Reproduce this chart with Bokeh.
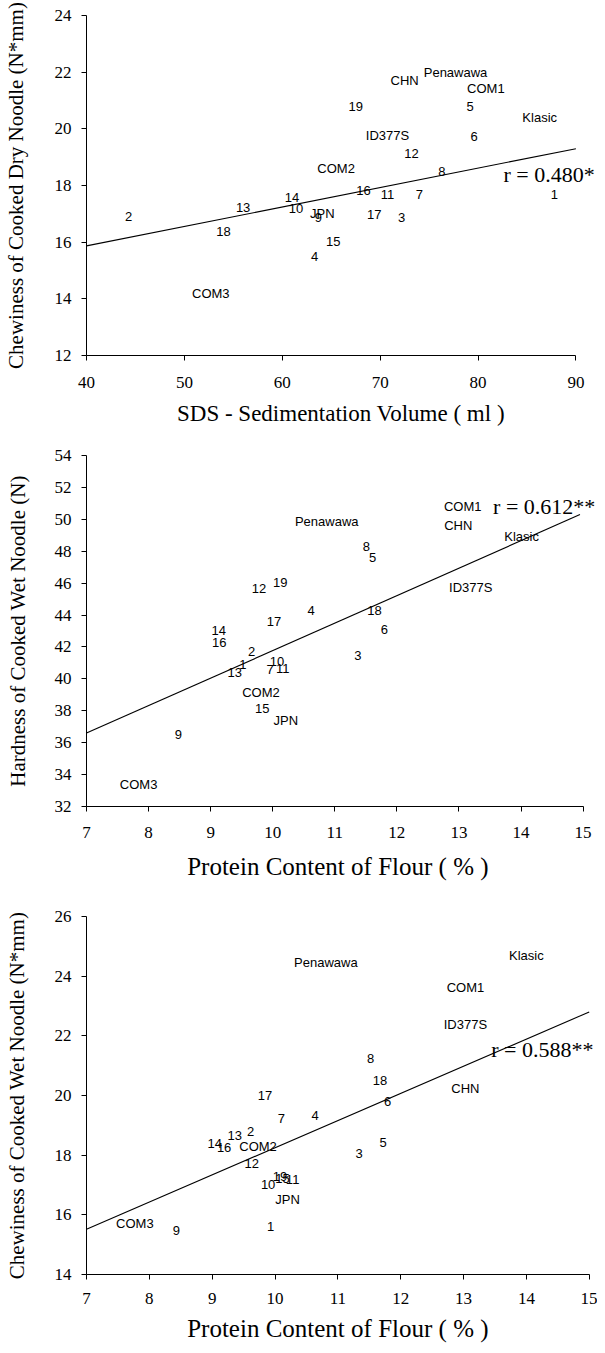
from bokeh.plotting import figure
from bokeh.layouts import column
from bokeh.models import ColumnDataSource, FixedTicker, Label
from bokeh.embed import file_html
from bokeh.resources import INLINE
from bokeh.core.properties import value

genotypes = ["1", "2", "3", "4", "5", "6", "7", "8", "9", "10", "11", "12", "13",
             "14", "15", "16", "17", "18", "19", "COM1", "COM2", "COM3", "CHN",
             "JPN", "Klasic", "Penawawa", "ID377S"]

# Panel 1: SDS-sedimentation volume vs chewiness of cooked dry noodle
sds_volume = [87.8, 44.3, 72.2, 63.3, 79.2, 79.6, 74.0, 76.3, 63.7, 61.4, 70.75, 73.2, 56.0,
              61.0, 65.2, 68.3, 69.4, 54.0, 67.5, 80.8, 65.5, 52.7, 72.5,
              64.1, 86.3, 77.7, 70.75]
chew_dry = [17.67, 16.92, 16.86, 15.51, 20.80, 19.72, 17.67, 18.48, 16.86, 17.19, 17.67, 19.13, 17.22,
            17.57, 16.04, 17.81, 16.96, 16.36, 20.80, 21.41, 18.59, 14.19, 21.69,
            17.02, 20.39, 21.98, 19.77]

# Panel 2: protein content vs hardness of cooked wet noodle
protein_hard = [9.52, 9.66, 11.37, 10.62, 11.61, 11.80, 9.96, 11.51, 8.48, 10.07, 10.16, 9.78, 9.39,
                9.13, 9.83, 9.14, 10.02, 11.64, 10.12, 13.06, 9.81, 7.84, 12.99,
                10.21, 14.01, 10.87, 13.19]
hardness_wet = [40.93, 41.73, 41.45, 44.28, 47.63, 43.08, 40.57, 48.27, 36.50, 41.10, 40.62, 45.64, 40.41,
                43.02, 38.17, 42.25, 43.57, 44.28, 46.01, 50.78, 39.16, 33.36, 49.61,
                37.40, 48.90, 49.88, 45.70]

# Panel 3: protein content vs chewiness of cooked wet noodle
protein_chew = [9.93, 9.61, 11.34, 10.64, 11.72, 11.79, 10.10, 11.52, 8.43, 9.89, 10.28, 9.63, 9.36,
                9.04, 10.12, 9.19, 9.84, 11.67, 10.08, 13.03, 9.73, 7.77, 13.03,
                10.20, 14.0, 10.81, 13.03]
chew_wet = [15.61, 18.81, 18.07, 19.34, 18.44, 19.79, 19.23, 21.25, 15.48, 17.03, 17.17, 17.71, 18.66,
            18.38, 17.22, 18.25, 20.01, 20.50, 17.30, 23.61, 18.29, 15.71, 20.24,
            16.50, 24.68, 24.45, 22.37]

# regression lines (end points)
fit1_x, fit1_y = [40, 90], [15.87, 19.30]
fit2_x, fit2_y = [7, 14.95], [36.6, 50.3]
fit3_x, fit3_y = [7, 15], [15.52, 22.80]

r_texts = ["r = 0.480*", "r = 0.612**", "r = 0.588**"]

SERIF = "Liberation Serif"
SANS = "Liberation Sans"


def panel(xs, ys, fx, fy, xr, xbounds, yr, xticks, yticks, xlabel, ylabel, rtext, rpos,
          height, bl, br, bt, bb, xstand, xtitle_stand, ytitle_stand, xtitle_size):
    p = figure(width=597, height=height, x_range=xr, y_range=yr,
               output_backend="svg", toolbar_location=None,
               min_border_left=bl, min_border_right=br,
               min_border_top=bt, min_border_bottom=bb)
    p.outline_line_color = None
    p.grid.visible = False
    p.background_fill_color = "white"
    for ax in (p.xaxis[0], p.yaxis[0]):
        ax.axis_line_color = "black"
        ax.major_tick_line_color = "black"
        ax.major_tick_out = 5
        ax.major_tick_in = 0
        ax.minor_tick_line_color = None
        ax.major_label_text_font = SERIF
        ax.major_label_text_font_size = "17px"
        ax.major_label_text_color = "black"
        ax.axis_label_text_font = SERIF
        ax.axis_label_text_font_style = "normal"
        ax.axis_label_text_color = "black"
    p.xaxis.bounds = xbounds
    p.xaxis.ticker = FixedTicker(ticks=xticks)
    p.yaxis.ticker = FixedTicker(ticks=yticks)
    p.xaxis.axis_label = xlabel
    p.yaxis.axis_label = ylabel
    p.xaxis.axis_label_text_font_size = xtitle_size
    p.yaxis.axis_label_text_font_size = "21px"
    p.xaxis.major_label_standoff = xstand
    p.xaxis.axis_label_standoff = xtitle_stand
    p.yaxis.major_label_standoff = 10
    p.yaxis.axis_label_standoff = ytitle_stand

    src = ColumnDataSource(dict(x=xs, y=ys, name=genotypes))
    p.text(x="x", y="y", text="name", source=src, text_font=value(SANS),
           text_font_size="13px", text_align="center", text_baseline="middle",
           text_color="black")
    p.line(fx, fy, line_color="black", line_width=1.1)
    p.add_layout(Label(x=rpos[0], y=rpos[1], text=rtext, text_font=SERIF,
                       text_font_size="22px", text_align="left",
                       text_baseline="middle", text_color="black"))
    return p


p1 = panel(sds_volume, chew_dry, fit1_x, fit1_y, (40, 92), (40, 90), (12, 24),
           [40, 50, 60, 70, 80, 90], [12, 14, 16, 18, 20, 22, 24],
           "SDS - Sedimentation Volume ( ml )", "Chewiness of Cooked Dry Noodle (N*mm)",
           r_texts[0], (82.6, 18.4), 440, 82, 2, 15, 85, 16, 10, 24, "23px")
p2 = panel(protein_hard, hardness_wet, fit2_x, fit2_y, (7, 15.2), (7, 15), (32, 54),
           list(range(7, 16)), list(range(32, 55, 2)),
           "Protein Content of Flour  ( % )", "Hardness of Cooked Wet Noodle (N)",
           r_texts[1], (13.55, 50.78), 461, 79, 0, 15, 95, 15, 12, 22, "25px")
p3 = panel(protein_chew, chew_wet, fit3_x, fit3_y, (7, 15.1), (7, 15), (14, 26),
           list(range(7, 16)), list(range(14, 27, 2)),
           "Protein Content of Flour  ( % )", "Chewiness of Cooked Wet Noodle (N*mm)",
           r_texts[2], (13.44, 21.53), 450, 80, 1, 15, 77, 13, 8, 23, "25px")

layout = column(p1, p2, p3, spacing=0)
open("out.html", "w").write(file_html(layout, INLINE))
